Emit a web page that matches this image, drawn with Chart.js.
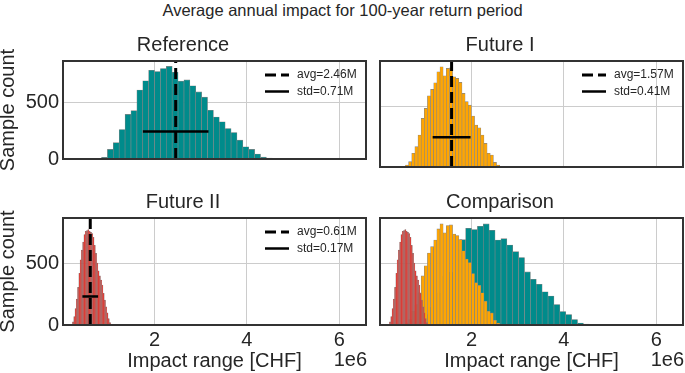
<!DOCTYPE html>
<html>
<head>
<meta charset="utf-8">
<script src="https://cdn.jsdelivr.net/npm/chart.js@4"></script>
<style>
  body { margin: 0; background: #fff; }
  #wrap { position: relative; width: 685px; height: 373px; overflow: hidden; font-family: 'Liberation Sans', Arial, sans-serif; }
  #suptitle { position: absolute; left: 0; top: 1px; width: 685px; text-align: center; font-size: 16.5px; line-height: 18px; color: #262626; }
  canvas { position: absolute; }
</style>
</head>
<body>
<div id="wrap">
  <div id="suptitle">Average annual impact for 100-year return period</div>
  <canvas id="c1" width="368" height="175" style="left:0;top:0"></canvas>
  <canvas id="c2" width="368" height="175" style="left:317px;top:0"></canvas>
  <canvas id="c3" width="368" height="193" style="left:0;top:180px"></canvas>
  <canvas id="c4" width="368" height="193" style="left:317px;top:180px"></canvas>
</div>
<script>
// histogram counts (values in million CHF)
var refStart = 0.854, refWidth = 0.1275;
var refCounts = [14, 85, 145, 262, 396, 429, 612, 694, 787, 776, 803, 822, 770, 691, 702,
  650, 596, 549, 432, 372, 331, 270, 235, 167, 109, 85, 44, 16, 8, 2];

var fut1Start = 0.571, fut1Width = 0.068;
var fut1Counts = [16, 44, 112, 167, 262, 399, 481, 585, 637, 691, 781, 822, 749, 809, 814,
  740, 727, 694, 604, 536, 508, 418, 344, 322, 262, 194, 112, 98, 38, 16];

var fut2Start = 0.225, fut2Width = 0.0275;
var fut2Counts = [25, 68, 134, 210, 306, 421, 530, 609, 675, 735, 762, 768, 776, 762, 754,
  743, 713, 648, 582, 503, 440, 399, 366, 325, 257, 202, 148, 98, 52, 19];

var avgs = [2.46, 1.57, 0.61];
var stds = [0.71, 0.41, 0.17];
var stdLineY = [245, 245, 232];
var titles = ["Reference", "Future I", "Future II", "Comparison"];
var colors = ["#008b8b", "#ffa500", "#e03a33"];

var xMin = 0.02, xMax = 6.58;
var xTicks = [2, 4, 6];
var yMax = 870;
var yTicks = [0, 500];

Chart.defaults.font.family = "'Liberation Sans', Arial, sans-serif";
Chart.defaults.color = "#262626";

function toPoints(start, width, counts) {
  return counts.map(function (c, i) {
    return { x: start + width * (i + 0.5), y: c };
  });
}

var hists = [
  toPoints(refStart, refWidth, refCounts),
  toPoints(fut1Start, fut1Width, fut1Counts),
  toPoints(fut2Start, fut2Width, fut2Counts)
];

function barSet(k, axis) {
  return {
    type: "bar",
    data: hists[k],
    xAxisID: axis,
    backgroundColor: colors[k],
    borderColor: k == 2 ? "#7f7f7f" : "#858585",
    borderWidth: k == 2 ? 0.45 : 0.6,
    categoryPercentage: 1,
    barPercentage: 1,
    grouped: false
  };
}

function lineSets(k) {
  return [
    {
      type: "line",
      label: "avg=" + avgs[k].toFixed(2) + "M",
      data: [{ x: avgs[k], y: 0 }, { x: avgs[k], y: yMax }],
      borderColor: "#000",
      borderWidth: 3,
      borderDash: [11, 5],
      pointRadius: 0,
      fill: false
    },
    {
      type: "line",
      label: "std=" + stds[k].toFixed(2) + "M",
      data: [{ x: avgs[k] - stds[k], y: stdLineY[k] }, { x: avgs[k] + stds[k], y: stdLineY[k] }],
      borderColor: "#000",
      borderWidth: 2.5,
      pointRadius: 0,
      fill: false
    }
  ];
}

// frame, legend and the 1e6 offset text
var panelDeco = {
  id: "panelDeco",
  afterDraw: function (chart) {
    var ctx = chart.ctx, a = chart.chartArea;
    var o = chart.options.plugins.panelDeco || {};
    ctx.save();
    var rows = chart.data.datasets.filter(function (d) { return d.type == "line"; });
    rows.forEach(function (d, i) {
      var y = a.top + 14 + i * 16.5;
      ctx.beginPath();
      ctx.setLineDash(d.borderDash || []);
      ctx.lineWidth = d.borderWidth;
      ctx.strokeStyle = "#000";
      ctx.moveTo(a.right - 101, y);
      ctx.lineTo(a.right - 77, y);
      ctx.stroke();
      ctx.setLineDash([]);
      ctx.fillStyle = "#262626";
      ctx.font = "12px 'Liberation Sans', Arial, sans-serif";
      ctx.textBaseline = "middle";
      ctx.textAlign = "left";
      ctx.fillText(d.label, a.right - 69, y);
    });
    ctx.lineWidth = 2;
    ctx.strokeStyle = "#333333";
    ctx.strokeRect(a.left, a.top, a.right - a.left, a.bottom - a.top);
    if (o.offsetText) {
      ctx.fillStyle = "#262626";
      ctx.font = "20px 'Liberation Sans', Arial, sans-serif";
      ctx.textAlign = "right";
      ctx.textBaseline = "middle";
      ctx.fillText(o.offsetText, a.right + 1, a.bottom + 35);
    }
    ctx.restore();
  }
};

function fixedTicks(list) {
  return function (s) {
    s.ticks = list.map(function (v) { return { value: v }; });
  };
}

function makePanel(id, idx, datasets, bottomRow, leftCol, extraX) {
  var scales = {
    x: {
      type: "linear",
      min: xMin,
      max: xMax,
      offset: false,
      grid: { color: "#cccccc", lineWidth: 1, drawTicks: false, offset: false },
      border: { display: false },
      afterBuildTicks: fixedTicks(xTicks),
      ticks: {
        display: bottomRow,
        padding: 3,
        font: { size: 20, lineHeight: 1.2 },
        callback: function (v) { return String(v); }
      },
      title: {
        display: bottomRow,
        text: "Impact range [CHF]",
        font: { size: 20, lineHeight: 1.2 },
        padding: { top: 0, bottom: 0 }
      },
      afterFit: function (s) { s.height = bottomRow ? 48 : 8; }
    },
    y: {
      min: 0,
      max: yMax,
      grid: { color: "#cccccc", lineWidth: 1, drawTicks: false },
      border: { display: false },
      afterBuildTicks: fixedTicks(yTicks),
      ticks: {
        display: leftCol,
        padding: 4,
        font: { size: 20 },
        callback: function (v) { return String(v); }
      },
      title: {
        display: leftCol,
        text: "Sample count",
        font: { size: 20, lineHeight: 0.8 },
        padding: { top: 0, bottom: 0 }
      },
      afterFit: function (s) { s.width = 63; }
    }
  };
  (extraX || []).forEach(function (name) {
    scales[name] = { type: "linear", min: xMin, max: xMax, offset: false, display: false };
  });

  return new Chart(document.getElementById(id), {
    type: "bar",
    data: { datasets: datasets },
    options: {
      responsive: false,
      animation: false,
      devicePixelRatio: 1,
      layout: { padding: { left: 0, right: 2, top: 0, bottom: 0 } },
      plugins: {
        legend: { display: false },
        tooltip: { enabled: false },
        title: {
          display: true,
          text: titles[idx],
          font: { size: 20, weight: "normal", lineHeight: 1.2 },
          color: "#262626",
          padding: bottomRow ? { top: 10.5, bottom: 3.5 } : { top: 33, bottom: 4 }
        },
        panelDeco: { offsetText: bottomRow ? "1e6" : "" }
      },
      scales: scales
    },
    plugins: [panelDeco]
  });
}

makePanel("c1", 0, lineSets(0).concat([barSet(0, "x")]), false, true);
makePanel("c2", 1, lineSets(1).concat([barSet(1, "x")]), false, false);
makePanel("c3", 2, lineSets(2).concat([barSet(2, "x")]), true, true);
makePanel("c4", 3, [barSet(2, "x"), barSet(1, "xb"), barSet(0, "xc")], true, false, ["xb", "xc"]);
</script>
</body>
</html>
